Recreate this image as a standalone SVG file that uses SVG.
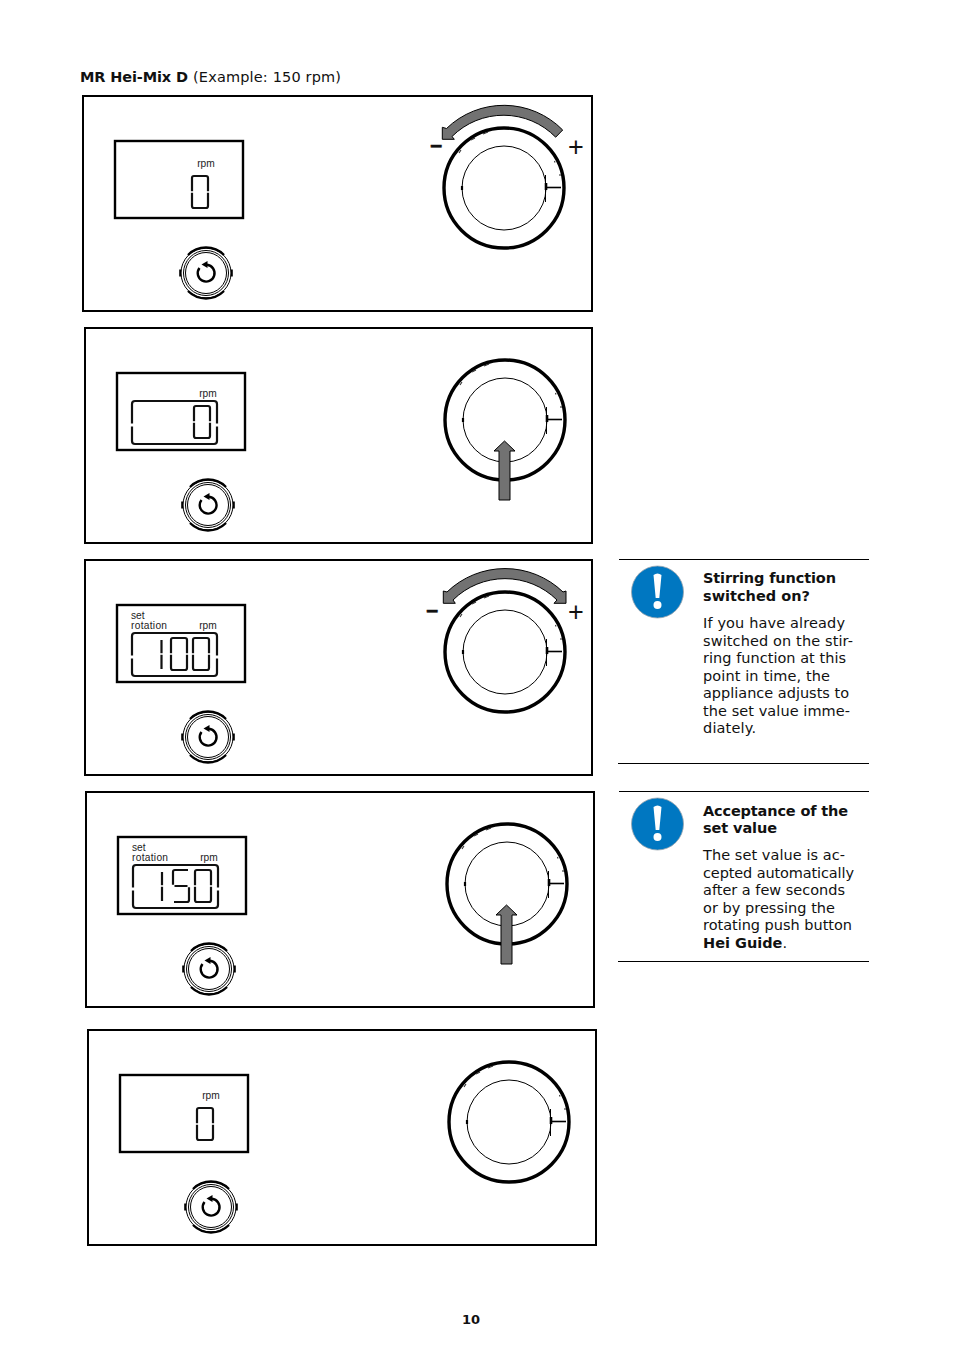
<svg xmlns="http://www.w3.org/2000/svg" width="954" height="1350" viewBox="0 0 954 1350">
<style>
text{font-family:"DejaVu Sans",Verdana,sans-serif;fill:#111}
.t{font-size:14.5px}
.b{font-size:14.5px;font-weight:700}
.s{font-family:"Liberation Sans",Arial,sans-serif;font-size:10.2px;fill:#222}
.panel{fill:#fff;stroke:#000;stroke-width:2}
.disp{fill:#fff;stroke:#000;stroke-width:2.4}
.seg{fill:none;stroke:#111;stroke-width:2.2;stroke-linecap:butt;stroke-linejoin:round}
.ring{fill:none;stroke:#000;stroke-width:3.4}
.thin{fill:none;stroke:#000;stroke-width:1}
.gray{fill:#727272;stroke:#000;stroke-width:1;stroke-linejoin:miter}
.rule{stroke:#000;stroke-width:1}
.pm{font-family:"Liberation Sans",Arial,sans-serif;font-size:27px;fill:#111}
.mn{font-family:"Liberation Sans",Arial,sans-serif;font-size:21px;font-weight:700;fill:#111;stroke:#111;stroke-width:0.5}
</style>
<defs>
<g id="d0"><path class="seg" d="M0,15.200 V2 Q0,0 2,0 H14 Q16,0 16,2 V15.200 M0,16.800 V30 Q0,32 2,32 H14 Q16,32 16,30 V16.800"/></g>
<g id="d1"><path class="seg" d="M0,2 V15.200 M0,16.800 V31"/></g>
<g id="d5"><path class="seg" d="M15,0 H2 Q0,0 0,2 V14.800 M1.500,16 H14.500 M16,17.200 V30 Q16,32 14,32 H1"/></g>
<g id="frame"><path class="seg" d="M15,50.500 V31 Q15,28 18,28 H97 Q100,28 100,31 V50.500 M15,53.500 V68 Q15,71 18,71 H97 Q100,71 100,68 V53.500"/></g>
<g id="knob">
<circle class="ring" r="60"/>
<circle class="thin" r="42"/>
<path d="M42,-0.500 H57" stroke="#000" stroke-width="1.6"/>
<path d="M41.500,-13 V14" stroke="#000" stroke-width="1" fill="none"/>
<path d="M42,-5 V2" stroke="#000" stroke-width="2.600"/>
<path d="M-42,-2 V2" stroke="#000" stroke-width="2.2"/>
<path d="M58.500,-14 A60,60 0 0 1 57,20" stroke="#000" stroke-width="1.600" fill="none"/>
<path d="M-45,-35 L-43,-38 M-33,-48 L-29,-50 M-21,-54 L-16,-56 M50.500,-27 L51,-25.500 M56,-14 L56,-12" stroke="#333" stroke-width="1.100" fill="none"/>
</g>
<g id="btn">
<circle r="25" fill="#fff" stroke="#000" stroke-width="1"/>
<path d="M-18,-18 A25.500,25.500 0 0 1 18,-18 M-18,18 A25.500,25.500 0 0 0 18,18" fill="none" stroke="#000" stroke-width="2.4"/>
<circle class="thin" r="22.500"/>
<circle class="thin" r="20.500"/>
<path d="M-25.800,-3.500 V3.500 M25.800,-3.500 V3.500" stroke="#000" stroke-width="2"/>
<path d="M1,-8.200 A8.400,8.400 0 1 1 -6.500,-5" fill="none" stroke="#000" stroke-width="2.4"/>
<path d="M1.500,-12 L-4.500,-8.500 L1.500,-5 Z" fill="#000"/>
</g>
<path id="arcL" class="gray" d="M-61.700,-48.700 L-61.700,-60.700 L-57.500,-59.500 A82.500,82.500 0 0 1 58.700,-58 L51.700,-50.800 A73,73 0 0 0 -52,-51.500 L-49.700,-48.700 Z"/>
<path id="arcB" class="gray" d="M-61.700,-48.700 L-61.700,-61 L-58,-60 A83.500,83.500 0 0 1 58,-60 L61,-61 L61,-48.700 L49,-48.700 L52,-52 A74,74 0 0 0 -52,-52 L-49.700,-48.700 Z"/>
<path id="up" class="gray" d="M-6,80 V31 H-11 L-0.500,21 L10,31 H5 V80 Z"/>
<g id="alert">
<circle r="26" fill="#0077c1" stroke="#9aa5ad" stroke-width="0.800"/>
<path d="M-4,-17 Q0,-20 4,-17 L1.800,6 H-1.800 Z" fill="#fff"/>
<circle cy="13" r="4" fill="#fff"/>
</g>
</defs>

<g id="heading">
<text x="80" y="82" class="b" textLength="108">MR Hei-Mix D</text>
<text x="193" y="82" class="t" textLength="148">(Example: 150 rpm)</text>
</g>

<g id="panel-1">
<rect class="panel" x="83" y="96" width="509" height="215"/>
<g transform="translate(115,141)">
<rect class="disp" width="128" height="77"/>
<text class="s" x="91" y="25.500" text-anchor="middle">rpm</text>
<use href="#d0" x="77" y="35"/>
</g>
<use href="#btn" x="206" y="273"/>
<use href="#knob" x="504" y="188"/>
<use href="#arcL" x="504" y="188"/>
<text class="mn" x="430" y="153">−</text>
<text class="pm" x="568" y="156">+</text>
</g>

<g id="panel-2">
<rect class="panel" x="85" y="328" width="507" height="215"/>
<g transform="translate(117,373)">
<rect class="disp" width="128" height="77"/>
<text class="s" x="91" y="24" text-anchor="middle">rpm</text>
<use href="#frame"/>
<use href="#d0" x="77" y="33"/>
</g>
<use href="#btn" x="208" y="505"/>
<use href="#knob" x="505" y="420"/>
<use href="#up" x="505" y="420"/>
</g>

<g id="panel-3">
<rect class="panel" x="85" y="560" width="507" height="215"/>
<g transform="translate(117,605)">
<rect class="disp" width="128" height="77"/>
<text class="s" x="14" y="14">set</text>
<text class="s" x="14" y="24" textLength="36">rotation</text>
<text class="s" x="91" y="24" text-anchor="middle">rpm</text>
<use href="#frame"/>
<use href="#d1" x="44.500" y="33"/>
<use href="#d0" x="54" y="33"/>
<use href="#d0" x="76" y="33"/>
</g>
<use href="#btn" x="208" y="737"/>
<use href="#knob" x="505" y="652"/>
<use href="#arcB" x="505" y="652"/>
<text class="mn" x="426" y="618">−</text>
<text class="pm" x="568" y="621">+</text>
</g>

<g id="panel-4">
<rect class="panel" x="86" y="792" width="508" height="215"/>
<g transform="translate(118,837)">
<rect class="disp" width="128" height="77"/>
<text class="s" x="14" y="14">set</text>
<text class="s" x="14" y="24" textLength="36">rotation</text>
<text class="s" x="91" y="24" text-anchor="middle">rpm</text>
<use href="#frame"/>
<use href="#d1" x="44" y="33"/>
<use href="#d5" x="55" y="33"/>
<use href="#d0" x="77" y="33"/>
</g>
<use href="#btn" x="209" y="969"/>
<use href="#knob" x="507" y="884"/>
<use href="#up" x="507" y="884"/>
</g>

<g id="panel-5">
<rect class="panel" x="88" y="1030" width="508" height="215"/>
<g transform="translate(120,1075)">
<rect class="disp" width="128" height="77"/>
<text class="s" x="91" y="24" text-anchor="middle">rpm</text>
<use href="#d0" x="77" y="33"/>
</g>
<use href="#btn" x="211" y="1207"/>
<use href="#knob" x="509" y="1122"/>
</g>

<g id="note-1">
<path class="rule" d="M619,559.500 H869 M618,763.500 H869"/>
<use href="#alert" x="657.500" y="592"/>
<text class="b" x="703" y="583" textLength="133">Stirring function</text>
<text class="b" x="703" y="601" textLength="107">switched on?</text>
<text class="t" x="703" y="628" textLength="142">If you have already</text>
<text class="t" x="703" y="646" textLength="150">switched on the stir-</text>
<text class="t" x="703" y="663" textLength="143">ring function at this</text>
<text class="t" x="703" y="681" textLength="127">point in time, the</text>
<text class="t" x="703" y="698" textLength="146">appliance adjusts to</text>
<text class="t" x="703" y="716" textLength="147">the set value imme-</text>
<text class="t" x="703" y="733" textLength="53">diately.</text>
</g>

<g id="note-2">
<path class="rule" d="M619,791.500 H869 M618,961.500 H869"/>
<use href="#alert" x="657.500" y="824"/>
<text class="b" x="703" y="816" textLength="145">Acceptance of the</text>
<text class="b" x="703" y="833" textLength="74">set value</text>
<text class="t" x="703" y="860" textLength="142">The set value is ac-</text>
<text class="t" x="703" y="878" textLength="151">cepted automatically</text>
<text class="t" x="703" y="895" textLength="142">after a few seconds</text>
<text class="t" x="703" y="913" textLength="132">or by pressing the</text>
<text class="t" x="703" y="930" textLength="149">rotating push button</text>
<text class="t" x="703" y="948"><tspan font-weight="700">Hei Guide</tspan>.</text>
</g>

<g id="footer"><text x="462" y="1324" font-size="13" font-weight="700">10</text></g>
</svg>
